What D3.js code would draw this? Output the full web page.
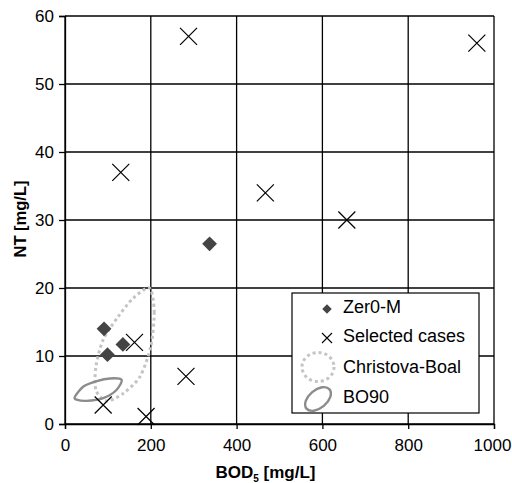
<!DOCTYPE html>
<html>
<head>
<meta charset="utf-8">
<script src="https://cdn.jsdelivr.net/npm/d3@7"></script>
<style>
  body { margin: 0; background: #fff; }
  svg { font-family: "Liberation Sans", Arial, sans-serif; }
</style>
</head>
<body>
<div id="chart"></div>
<script>
// data
const xTicks = [0, 200, 400, 600, 800, 1000];
const yTicks = [0, 10, 20, 30, 40, 50, 60];

const zeroM_bod = [337, 91, 99, 135];
const zeroM_nt = [26.5, 14.0, 10.2, 11.7];

const sel_bod = [288, 130, 960, 467, 657, 162, 282, 89, 189];
const sel_nt = [57, 37, 56, 34, 30, 12, 7, 2.8, 1.1];

// outline of the Christova-Boal zone
const cb_bod = [197, 208, 200, 175, 136, 97, 72, 72, 89, 124, 159];
const cb_nt = [20.0, 16.5, 11.4, 7.0, 4.5, 3.4, 5.0, 8.4, 12.4, 15.8, 18.5];

// outline of the BO90 zone
const bo_bod = [23, 43, 74, 105, 132, 120, 89, 50, 27];
const bo_nt = [4.0, 5.5, 6.3, 6.7, 6.5, 5.0, 3.8, 3.4, 3.6];

const legendLabels = ["Zer0-M", "Selected cases", "Christova-Boal", "BO90"];

document.addEventListener("DOMContentLoaded", function () {
    const w = 512, h = 483;
    const left = 65, right = 494, top = 16, bottom = 424;

    const svg = d3.select("#chart").append("svg").attr("width", w).attr("height", h);

    const xScale = d3.scaleLinear().domain([0, 1000]).range([left, right]);
    const yScale = d3.scaleLinear().domain([0, 60]).range([bottom, top]);

    // grid
    svg.append("g").selectAll("line").data(xTicks).enter().append("line")
        .attr("x1", d => xScale(d)).attr("x2", d => xScale(d))
        .attr("y1", top).attr("y2", bottom)
        .attr("stroke", "#000").attr("stroke-width", 1.3);
    svg.append("g").selectAll("line").data(yTicks).enter().append("line")
        .attr("x1", left).attr("x2", right)
        .attr("y1", d => yScale(d)).attr("y2", d => yScale(d))
        .attr("stroke", "#000").attr("stroke-width", 1.3);

    // axes
    const xAxis = d3.axisBottom(xScale).tickValues(xTicks).tickSize(5).tickPadding(10).tickFormat(d3.format("d"));
    const yAxis = d3.axisLeft(yScale).tickValues(yTicks).tickSize(6).tickPadding(5).tickFormat(d3.format("d"));
    const gx = svg.append("g").attr("transform", "translate(0," + bottom + ")").call(xAxis);
    const gy = svg.append("g").attr("transform", "translate(" + left + ",0)").call(yAxis);
    [gx, gy].forEach(g => {
        g.select(".domain").attr("stroke", "#000").attr("stroke-width", 1.3);
        g.selectAll(".tick line").attr("stroke", "#000").attr("stroke-width", 1.3);
        g.selectAll("text").attr("fill", "#000").style("font-size", "17px")
            .style("font-family", "'Liberation Sans', Arial, sans-serif");
    });
    // last x label sits a bit left, like the original
    gx.selectAll(".tick text").filter(d => d === 1000).attr("dx", "-2");

    // axis titles
    const xt = svg.append("text").attr("x", (left + right) / 2 - 14).attr("y", 478)
        .attr("text-anchor", "middle").style("font-size", "17px").style("font-weight", "bold");
    xt.append("tspan").text("BOD");
    xt.append("tspan").text("5").attr("dy", 4).style("font-size", "10px");
    xt.append("tspan").text(" [mg/L]").attr("dy", -4);

    svg.append("text").attr("transform", "rotate(-90)").attr("x", -219).attr("y", 26)
        .attr("text-anchor", "middle").style("font-size", "16.5px").style("font-weight", "bold")
        .text("NT [mg/L]");

    // zones
    const cb = cb_bod.map((v, i) => [v, cb_nt[i]]);
    const bo = bo_bod.map((v, i) => [v, bo_nt[i]]);
    const zoneLine = d3.line().x(d => xScale(d[0])).y(d => yScale(d[1])).curve(d3.curveCardinalClosed.tension(0.2));

    svg.append("path").datum(cb).attr("d", zoneLine)
        .attr("fill", "none").attr("stroke", "#c4c4c4").attr("stroke-width", 3).attr("stroke-dasharray", "3,3");
    svg.append("path").datum(bo).attr("d", zoneLine)
        .attr("fill", "none").attr("stroke", "#8c8c8c").attr("stroke-width", 2.4);

    // Zer0-M diamonds
    const zm = zeroM_bod.map((v, i) => [v, zeroM_nt[i]]);
    svg.append("g").selectAll("path").data(zm).enter().append("path")
        .attr("d", d3.symbol(d3.symbolSquare, 110))
        .attr("transform", d => "translate(" + xScale(d[0]) + "," + yScale(d[1]) + ") rotate(45)")
        .attr("fill", "#444");

    // selected cases crosses
    const sc = sel_bod.map((v, i) => [v, sel_nt[i]]);
    const r = 8.5;
    svg.append("g").selectAll("path").data(sc).enter().append("path")
        .attr("d", d => {
            const x = xScale(d[0]), y = yScale(d[1]);
            return "M" + (x - r) + "," + (y - r) + "L" + (x + r) + "," + (y + r) +
                "M" + (x - r) + "," + (y + r) + "L" + (x + r) + "," + (y - r);
        })
        .attr("stroke", "#000").attr("stroke-width", 1.2).attr("fill", "none");

    // legend
    const lg = svg.append("g");
    lg.append("rect").attr("x", 292).attr("y", 293).attr("width", 187).attr("height", 120)
        .attr("fill", "#fff").attr("stroke", "#000").attr("stroke-width", 1.2);
    const rowBase = [313, 342, 373, 403];
    lg.selectAll("text").data(legendLabels).enter().append("text")
        .attr("x", 343).attr("y", (d, i) => rowBase[i])
        .style("font-size", "18px").attr("fill", "#000").text(d => d);

    lg.append("path").attr("d", d3.symbol(d3.symbolSquare, 45))
        .attr("transform", "translate(327,309) rotate(45)").attr("fill", "#444");
    const lr = 5;
    lg.append("path")
        .attr("d", "M" + (327 - lr) + "," + (338 - lr) + "L" + (327 + lr) + "," + (338 + lr) +
            "M" + (327 - lr) + "," + (338 + lr) + "L" + (327 + lr) + "," + (338 - lr))
        .attr("stroke", "#000").attr("stroke-width", 1.1);
    lg.append("ellipse").attr("cx", 318).attr("cy", 367).attr("rx", 16).attr("ry", 14.5)
        .attr("fill", "none").attr("stroke", "#c4c4c4").attr("stroke-width", 3).attr("stroke-dasharray", "3,3");
    lg.append("ellipse").attr("cx", 318).attr("cy", 399).attr("rx", 15).attr("ry", 9)
        .attr("transform", "rotate(-40,318,399)")
        .attr("fill", "none").attr("stroke", "#8c8c8c").attr("stroke-width", 2.4);
});
</script>
</body>
</html>
